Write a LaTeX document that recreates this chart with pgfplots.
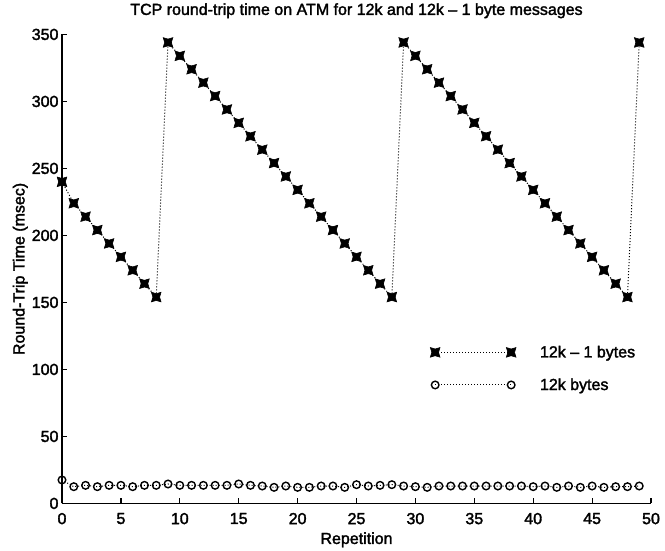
\documentclass[border=0pt]{standalone}
\usepackage{pgfplots}
\pgfplotsset{compat=1.18}
\usepackage{fontspec}
\setmainfont{Liberation Sans}[FakeBold=2]

% filled square with pinched sides, used for the 12k-1 series
\pgfdeclareplotmark{pinchsq}{%
  \pgfpathmoveto{\pgfpoint{-\pgfplotmarksize}{-\pgfplotmarksize}}%
  \pgfpathlineto{\pgfpoint{0pt}{-0.7\pgfplotmarksize}}%
  \pgfpathlineto{\pgfpoint{\pgfplotmarksize}{-\pgfplotmarksize}}%
  \pgfpathlineto{\pgfpoint{0.7\pgfplotmarksize}{0pt}}%
  \pgfpathlineto{\pgfpoint{\pgfplotmarksize}{\pgfplotmarksize}}%
  \pgfpathlineto{\pgfpoint{0pt}{0.7\pgfplotmarksize}}%
  \pgfpathlineto{\pgfpoint{-\pgfplotmarksize}{\pgfplotmarksize}}%
  \pgfpathlineto{\pgfpoint{-0.7\pgfplotmarksize}{0pt}}%
  \pgfpathclose
  \pgfusepathqfillstroke}

\begin{document}
\begin{tikzpicture}
\begin{axis}[
  scale only axis,
  width=589pt, height=469pt,
  xmin=0, xmax=50, ymin=0, ymax=350,
  xtick={0,5,...,50}, ytick={0,50,...,350},
  axis lines*=left,
  axis line style={line width=1.6pt},
  tick align=inside,
  major tick length=5pt,
  tick style={line width=1.2pt, black},
  /pgf/number format/assume math mode=true,
  ticklabel style={font=\fontsize{16}{18}\selectfont},
  xticklabel style={yshift=-6pt},
  label style={font=\fontsize{16}{18}\selectfont},
  title style={font=\fontsize{16}{18}\selectfont,
    at={(axis description cs:0.5,1.0288)}, anchor=base},
  title={TCP round-trip time on ATM for 12k and 12k -- 1 byte messages},
  xlabel={Repetition},
  ylabel={Round-Trip Time (msec)},
  xlabel style={at={(axis description cs:0.5,-0.0864)}, anchor=base},
  ylabel style={at={(axis description cs:-0.0637,0.5)}, anchor=base},
  clip=false,
  legend style={draw=none, fill=none, at={(0.62,0.345)}, anchor=north west,
    font=\fontsize{16}{18}\selectfont, row sep=15.5pt,
    /tikz/every odd column/.append style={column sep=22pt}},
  legend cell align=left,
  legend image code/.code={\draw[#1] plot coordinates {(0pt,0pt) (76pt,0pt)};},
]
\addplot[black, line width=1pt, dotted, mark=pinchsq, mark size=4.8pt,
  mark options={solid, fill=black, line width=0.6pt}] coordinates {
  (0,240) (1,224) (2,214) (3,204) (4,194) (5,184) (6,174) (7,164) (8,154)
  (9,344) (10,334) (11,324) (12,314) (13,304) (14,294) (15,284) (16,274)
  (17,264) (18,254) (19,244) (20,234) (21,224) (22,214) (23,204) (24,194)
  (25,184) (26,174) (27,164) (28,154)
  (29,344) (30,334) (31,324) (32,314) (33,304) (34,294) (35,284) (36,274)
  (37,264) (38,254) (39,244) (40,234) (41,224) (42,214) (43,204) (44,194)
  (45,184) (46,174) (47,164) (48,154)
  (49,344)
};
\addlegendentry{12k -- 1 bytes}
\addplot[black, line width=1pt, dotted, mark=o, mark size=3.8pt,
  mark options={solid, line width=1.4pt}] coordinates {
  (0,17.5) (1,12.5) (2,13.5) (3,12.5) (4,13.5) (5,13.5) (6,12.5) (7,13.5)
  (8,13.5) (9,14.5) (10,13.5) (11,13.5) (12,13.5) (13,13.5) (14,13.5)
  (15,14.5) (16,13.5) (17,13) (18,12) (19,13) (20,12) (21,12) (22,13)
  (23,13) (24,12) (25,14) (26,13) (27,13.5) (28,14) (29,13) (30,12.5)
  (31,12) (32,13) (33,13) (34,13) (35,13) (36,13) (37,13) (38,13) (39,13)
  (40,12.5) (41,13) (42,12) (43,13) (44,12) (45,13) (46,12) (47,12.5)
  (48,12.5) (49,13)
};
\addlegendentry{12k bytes}
% white margin round the plot area
\path (rel axis cs:0,0) ++(-62pt,-45pt);
\path (rel axis cs:1,1) ++(14pt,34pt);
\end{axis}
\end{tikzpicture}
\end{document}
